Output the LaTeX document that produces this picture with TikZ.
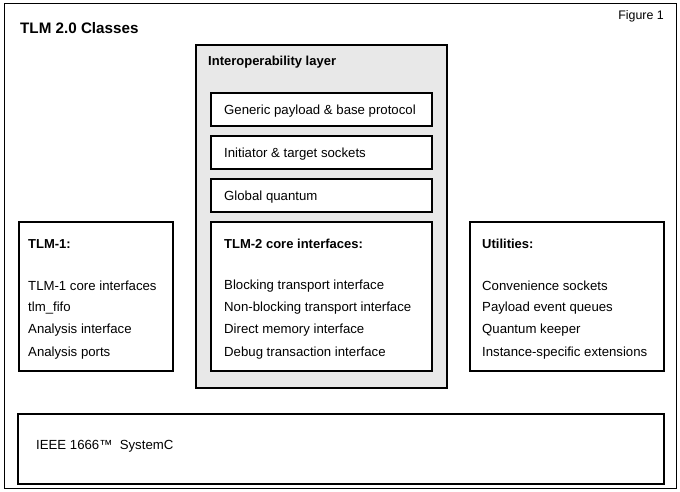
\documentclass[tikz,border=0pt]{standalone}
\usepackage{fontspec}
\setmainfont{Liberation Sans}
\definecolor{layergray}{HTML}{E8E8E8}
\begin{document}
\begin{tikzpicture}[x=1pt,y=-1pt,
  box/.style={draw=black,line width=1.8pt,fill=white,anchor=north west,inner sep=0pt},
  txt/.style={anchor=west,inner sep=0pt,yshift=-2pt,font=\fontsize{13.2}{15}\selectfont},
  hdr/.style={anchor=west,inner sep=0pt,yshift=-2pt,font=\fontsize{13}{15}\selectfont\bfseries}]
\useasboundingbox (0,0) rectangle (680,491);
\node[draw=black,line width=0.8pt,anchor=north west,inner sep=0pt,minimum width=672pt,minimum height=485pt] (frame) at (4,3) {};
\node[anchor=west,inner sep=0pt,yshift=-1pt,font=\fontsize{15.2}{17}\selectfont\bfseries] (title) at (20,27) {TLM 2.0 Classes};
\node[anchor=east,inner sep=0pt,yshift=-1.5pt,font=\fontsize{12.4}{14}\selectfont] (fig) at (664,15) {Figure 1};
% interoperability layer
\node[box,fill=layergray,minimum width=251pt,minimum height=343pt] (interop) at (195,44) {};
\node[hdr] (interopT) at (208,60) {Interoperability layer};
\node[box,minimum width=221pt,minimum height=33pt] (gp) at (210,92) {};
\node[txt] (gpT) at (224,109) {Generic payload \& base protocol};
\node[box,minimum width=221pt,minimum height=33pt] (sock) at (210,135) {};
\node[txt] (sockT) at (224,152) {Initiator \& target sockets};
\node[box,minimum width=221pt,minimum height=33pt] (gq) at (210,178) {};
\node[txt] (gqT) at (224,195) {Global quantum};
\node[box,minimum width=221pt,minimum height=149pt] (core) at (210,221) {};
\node[hdr] (coreT) at (224,242) {TLM-2 core interfaces:};
\node[txt] (c1) at (224,284) {Blocking transport interface};
\node[txt] (c2) at (224,306) {Non-blocking transport interface};
\node[txt] (c3) at (224,328) {Direct memory interface};
\node[txt] (c4) at (224,351) {Debug transaction interface};
% TLM-1
\node[box,minimum width=154pt,minimum height=149pt] (tlm1) at (18,221) {};
\node[hdr] (tlm1T) at (28,242) {TLM-1:};
\node[txt] (t1) at (28,284) {TLM-1 core interfaces};
\node[txt] (t2) at (28,306) {tlm\_fifo};
\node[txt] (t3) at (28,328) {Analysis interface};
\node[txt] (t4) at (28,351) {Analysis ports};
% Utilities
\node[box,minimum width=194pt,minimum height=149pt] (util) at (469,221) {};
\node[hdr] (utilT) at (482,242) {Utilities:};
\node[txt] (u1) at (482,284) {Convenience sockets};
\node[txt] (u2) at (482,306) {Payload event queues};
\node[txt] (u3) at (482,328) {Quantum keeper};
\node[txt] (u4) at (482,351) {Instance-specific extensions};
% SystemC
\node[box,minimum width=646pt,minimum height=70pt] (sysc) at (17,413) {};
\node[txt] (syscT) at (36,444) {IEEE 1666™\ \ SystemC};
\end{tikzpicture}
\end{document}
